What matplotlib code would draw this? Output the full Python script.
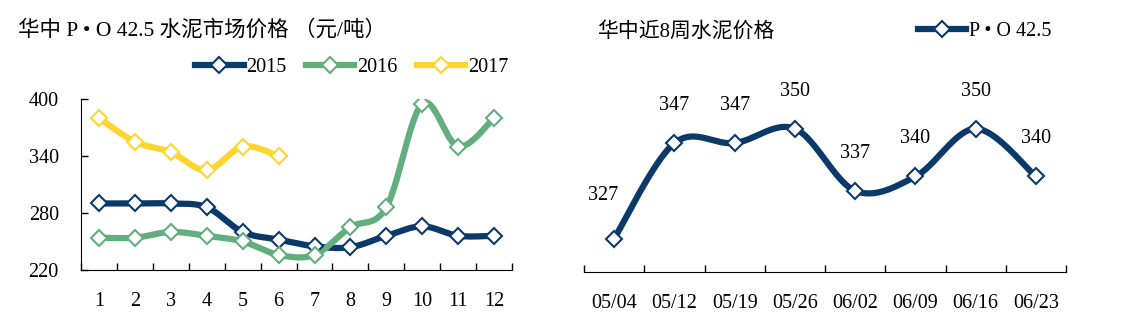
import numpy as np
import matplotlib
matplotlib.use('Agg')
import matplotlib.pyplot as plt

plt.rcParams['font.family'] = ['Liberation Serif', 'Noto Sans CJK SC']
plt.rcParams['font.size'] = 14.5

# monthly prices by year
months = [str(m) for m in range(1, 13)]
price_2015 = [290, 290, 290, 286, 260, 252, 245, 244, 256, 266, 256, 256]
price_2016 = [254, 254, 260, 256, 250, 236, 236, 265, 286, 395, 350, 380]
price_2017 = [380, 355, 344, 325, 350, 340]

# last 8 weeks
weeks = ['05/04', '05/12', '05/19', '05/26', '06/02', '06/09', '06/16', '06/23']
week_price = [327, 347, 347, 350, 337, 340, 350, 340]

navy = '#0B3A6A'
green = '#62AE7E'
yellow = '#FFD52E'


def smooth(x, y, n=30):
    # catmull-rom style curve through the points (like excel's smoothed line)
    x = np.asarray(x, float)
    y = np.asarray(y, float)
    px = np.concatenate([[x[0]], x, [x[-1]]])
    py = np.concatenate([[y[0]], y, [y[-1]]])
    xs, ys = [], []
    t = np.linspace(0, 1, n)
    for i in range(1, len(px) - 2):
        p0 = np.array([px[i], py[i]])
        p3 = np.array([px[i + 1], py[i + 1]])
        p1 = p0 + (p3 - np.array([px[i - 1], py[i - 1]])) / 6
        p2 = p3 - (np.array([px[i + 2], py[i + 2]]) - p0) / 6
        b = ((1 - t) ** 3)[:, None] * p0 + (3 * (1 - t) ** 2 * t)[:, None] * p1 \
            + (3 * (1 - t) * t ** 2)[:, None] * p2 + (t ** 3)[:, None] * p3
        xs.extend(b[:, 0])
        ys.extend(b[:, 1])
    return xs, ys


def series(ax, y, color, label=None):
    x = np.arange(len(y))
    sx, sy = smooth(x, y)
    ax.plot(sx, sy, color=color, lw=4.5, solid_capstyle='round', zorder=2)
    ax.plot(x, y, ls='none', marker='D', ms=8, mfc='white', mec=color, mew=1.5, zorder=3)
    # proxy handle for the legend
    return ax.plot([], [], color=color, lw=4.5, marker='D', ms=8, mfc='white',
                   mec=color, mew=1.5, label=label)[0]


fig = plt.figure(figsize=(11.43, 3.24), dpi=100)

# left panel
ax1 = fig.add_axes([0.0709, 0.1667, 0.3771, 0.5277])
h = [series(ax1, price_2015, navy, '2015'),
     series(ax1, price_2016, green, '2016'),
     series(ax1, price_2017, yellow, '2017')]
ax1.set_xlim(-0.5, 11.5)
ax1.set_ylim(220, 400)
ax1.set_yticks([220, 280, 340, 400])
ax1.set_xticks(range(12))
ax1.set_xticklabels(months)
ax1.set_xticks(np.arange(-0.5, 12, 1), minor=True)
ax1.tick_params(axis='x', which='major', length=0, pad=16)
ax1.tick_params(axis='x', which='minor', direction='in', length=5, width=1)
ax1.tick_params(axis='y', direction='in', length=5, width=1, pad=16)
for s in ['top', 'right']:
    ax1.spines[s].set_visible(False)
ax1.legend(handles=h, loc='center left', bbox_to_anchor=(0.162, 0.793),
           bbox_transform=fig.transFigure, ncol=3, frameon=False, borderpad=0,
           handlelength=2.4, handletextpad=0.15, columnspacing=0.95)
fig.text(0.0157, 0.905, '华中 P • O 42.5 水泥市场价格 （元/吨）', fontsize=15.5, va='center')

# right panel
ax2 = fig.add_axes([0.511, 0.1605, 0.4217, 0.5895])
hw = series(ax2, week_price, navy, 'P • O 42.5')
for i, v in enumerate(week_price):
    dx = -8 if i == 0 else 0
    dy = 31 if i == 0 else 27
    ax2.annotate(str(v), (i, v), xytext=(dx, dy), textcoords='offset points',
                 ha='center', va='center')
ax2.set_xlim(-0.5, 7.5)
ax2.set_ylim(320, 360)
ax2.set_yticks([])
ax2.set_xticks(range(8))
ax2.set_xticklabels(weeks)
ax2.set_xticks(np.arange(-0.5, 8, 1), minor=True)
ax2.tick_params(axis='x', which='major', length=0, pad=16)
ax2.tick_params(axis='x', which='minor', direction='in', length=5, width=1)
for s in ['top', 'right', 'left']:
    ax2.spines[s].set_visible(False)
ax2.legend(handles=[hw], loc='center left', bbox_to_anchor=(0.794, 0.904),
           bbox_transform=fig.transFigure, frameon=False, borderpad=0,
           handlelength=2.4, handletextpad=0.15)
fig.text(0.522, 0.901, '华中近8周水泥价格', fontsize=15, va='center')

fig.savefig('out.png', dpi=100)
